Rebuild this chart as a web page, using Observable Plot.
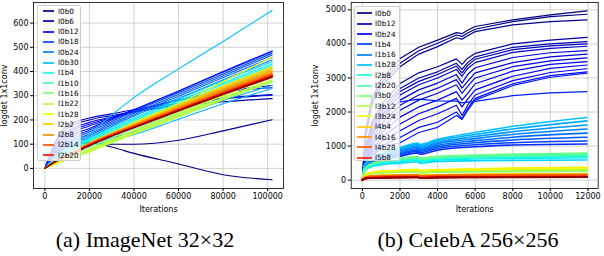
<!DOCTYPE html>
<html><head><meta charset="utf-8">
<script src="https://cdn.jsdelivr.net/npm/d3@7"></script>
<script src="https://cdn.jsdelivr.net/npm/@observablehq/plot@0.6"></script>
<style>
body{margin:0;background:#fff;width:604px;height:256px;position:relative;overflow:hidden;font-family:"DejaVu Sans",sans-serif;}
.panel{position:absolute;top:0;}
.legend{position:absolute;background:rgba(255,255,255,0.8);border:1px solid #cfcfcf;border-radius:2px;box-sizing:border-box;}
.row{display:flex;align-items:center;height:10.3px;font-size:7.3px;color:#000;white-space:nowrap;}
.sw{height:2px;opacity:0.85;flex:none;}
.caption{position:absolute;font-family:"Liberation Serif","Tinos","Nimbus Roman","Times New Roman","DejaVu Serif",serif;font-size:22px;line-height:22px;white-space:nowrap;transform:translateX(-50%);color:#000;}
</style></head><body>
<div id="a" class="panel" style="left:0"></div>
<div id="b" class="panel" style="left:302px"></div>
<div id="legA" class="legend" style="left:37px;top:4.5px;width:44px;height:156px;padding-top:0.4px"></div>
<div id="legB" class="legend" style="left:354px;top:5.5px;width:45.5px;height:155.5px;padding-top:1.8px"></div>
<div class="caption" style="left:145px;top:229px">(a) ImageNet 32×32</div>
<div class="caption" style="left:468px;top:229px">(b) CelebA 256×256</div>
<script>
// ---------- (a) ImageNet 32x32 ----------
const IN_ITER = [0, 5000, 10000, 20000, 30000, 40000, 60000, 80000, 102000];
const IN_X_TICKS = [0, 20000, 40000, 60000, 80000, 100000];
const IN_Y_TICKS = [0, 100, 200, 300, 400, 500, 600];
const IN_LEGEND = ["l0b0","l0b6","l0b12","l0b18","l0b24","l0b30","l1b4","l1b10","l1b16","l1b22","l1b28","l2b2","l2b8","l2b14","l2b20"];
const IN_L0 = [
  ["l0b0",  [0, 60, 95, 108, 88, 62, 18, -26, -47]],
  ["l0b2",  [0, 55, 88, 104, 100, 100, 116, 155, 201]],
  ["l0b4",  [0, 110, 165, 200, 218, 235, 258, 275, 288]],
  ["l0b6",  [0, 115, 175, 208, 225, 242, 268, 290, 305]],
  ["l0b8",  [0, 100, 150, 190, 212, 232, 262, 287, 302]],
  ["l0b10", [0, 95, 145, 182, 210, 238, 282, 318, 342]],
  ["l0b12", [0, 80, 125, 165, 205, 243, 320, 400, 485]],
  ["l0b14", [0, 85, 135, 175, 205, 234, 280, 315, 333]],
  ["l0b16", [0, 70, 115, 158, 200, 240, 318, 397, 482]],
  ["l0b18", [0, 65, 108, 150, 193, 235, 312, 390, 475]],
  ["l0b20", [0, 60, 100, 142, 186, 228, 305, 383, 468]],
  ["l0b22", [0, 55, 95, 135, 180, 222, 298, 375, 458]],
  ["l0b24", [0, 50, 88, 128, 174, 216, 290, 366, 448]],
  ["l0b26", [0, 40, 68, 100, 125, 150, 215, 280, 343]],
  ["l0b28", [0, 35, 60, 92, 115, 140, 203, 267, 330]],
  ["l0b30", [0, 40, 78, 140, 220, 292, 411, 524, 652]]
];
const IN_L1 = [
  ["l1b0",  [0, 45, 78, 125, 168, 208, 285, 362, 440]],
  ["l1b2",  [0, 42, 74, 120, 162, 202, 278, 353, 432]],
  ["l1b4",  [0, 40, 70, 116, 158, 197, 272, 347, 425]],
  ["l1b6",  [0, 38, 66, 112, 153, 192, 266, 340, 418]],
  ["l1b8",  [0, 35, 62, 106, 147, 185, 258, 332, 408]],
  ["l1b10", [0, 33, 58, 100, 140, 178, 250, 323, 398]],
  ["l1b12", [0, 30, 54, 94, 133, 170, 241, 313, 388]],
  ["l1b14", [0, 28, 50, 88, 126, 162, 232, 302, 376]],
  ["l1b16", [0, 25, 45, 80, 118, 154, 224, 293, 366]],
  ["l1b18", [0, 22, 40, 74, 112, 148, 218, 287, 360]],
  ["l1b20", [0, 20, 37, 70, 108, 144, 214, 284, 356]],
  ["l1b22", [0, 19, 36, 68, 106, 142, 212, 283, 357]],
  ["l1b24", [0, 20, 38, 72, 110, 147, 218, 290, 365]],
  ["l1b26", [0, 22, 42, 78, 117, 155, 228, 300, 375]],
  ["l1b28", [0, 18, 40, 98, 145, 190, 268, 358, 460]],
  ["l1b30", [0, 22, 45, 95, 138, 178, 252, 326, 402]]
];
const IN_L2 = [
  ["l2b0",  [0, 28, 52, 102, 146, 186, 262, 340, 420]],
  ["l2b2",  [0, 30, 54, 104, 146, 185, 260, 336, 414]],
  ["l2b4",  [0, 31, 55, 104, 145, 183, 257, 332, 408]],
  ["l2b6",  [0, 32, 56, 104, 144, 181, 254, 328, 403]],
  ["l2b8",  [0, 33, 57, 103, 143, 179, 251, 324, 398]],
  ["l2b10", [0, 33, 57, 102, 141, 177, 248, 320, 394]],
  ["l2b12", [0, 33, 56, 101, 140, 175, 246, 317, 391]],
  ["l2b14", [0, 32, 55, 100, 139, 174, 244, 314, 388]],
  ["l2b16", [0, 32, 54, 99, 138, 173, 243, 312, 386]],
  ["l2b18", [0, 31, 53, 98, 137, 172, 242, 311, 384]],
  ["l2b20", [0, 31, 52, 97, 136, 171, 241, 310, 383]],
  ["l2b22", [0, 30, 51, 96, 135, 170, 240, 309, 381]],
  ["l2b24", [0, 30, 51, 96, 135, 170, 240, 308, 380]],
  ["l2b26", [0, 29, 50, 95, 134, 169, 239, 307, 379]],
  ["l2b28", [0, 29, 50, 95, 134, 169, 238, 306, 378]],
  ["l2b30", [0, 28, 49, 94, 133, 168, 237, 305, 376]]
];

// ---------- (b) CelebA 256x256 ----------
const CA_ITER_L0 = [0, 150, 500, 1000, 2000, 3000, 4000, 5000, 5300, 5600, 6000, 8000, 10000, 11950];
const CA_ITER_BANDS = [0, 100, 400, 1000, 2000, 2950, 3050, 4000, 6000, 8000, 11950];
const CA_X_TICKS = [0, 2000, 4000, 6000, 8000, 10000, 12000];
const CA_Y_TICKS = [0, 1000, 2000, 3000, 4000, 5000];
const CA_LEGEND = ["l0b0","l0b12","l0b24","l1b4","l1b16","l1b28","l2b8","l2b20","l3b0","l3b12","l3b24","l4b4","l4b16","l4b28","l5b8"];
const CA_L0 = [
  ["l0b0",  [0, 1400, 2400, 2950, 3570, 3900, 4110, 4330, 4300, 4400, 4510, 4705, 4850, 4970]],
  ["l0b2",  [0, 1300, 2300, 2850, 3430, 3800, 4020, 4260, 4220, 4320, 4430, 4655, 4800, 4870]],
  ["l0b4",  [0, 1200, 2200, 2750, 3330, 3700, 3920, 4180, 4140, 4240, 4360, 4560, 4655, 4705]],
  ["l0b6",  [0, 900, 1700, 2200, 2840, 3150, 3330, 3560, 3400, 3580, 3720, 4000, 4110, 4190]],
  ["l0b8",  [0, 850, 1600, 2100, 2690, 3000, 3180, 3430, 3250, 3450, 3620, 3900, 4000, 4065]],
  ["l0b10", [0, 800, 1500, 2000, 2600, 2900, 3100, 3350, 3150, 3370, 3550, 3830, 3940, 4000]],
  ["l0b12", [0, 750, 1400, 1900, 2500, 2800, 3000, 3250, 3050, 3280, 3450, 3750, 3870, 3930]],
  ["l0b14", [0, 700, 1300, 1800, 2350, 2650, 2850, 3100, 2850, 3100, 3300, 3600, 3740, 3800]],
  ["l0b16", [0, 650, 1200, 1650, 2200, 2500, 2700, 2950, 2700, 2900, 3150, 3450, 3620, 3700]],
  ["l0b18", [0, 600, 1100, 1500, 2050, 2350, 2550, 2800, 2550, 2750, 3000, 3330, 3500, 3590]],
  ["l0b20", [0, 550, 1000, 1380, 1850, 2150, 2350, 2600, 2350, 2550, 2830, 3200, 3400, 3480]],
  ["l0b22", [0, 500, 900, 1250, 1650, 1950, 2150, 2400, 2150, 2380, 2650, 3050, 3280, 3380]],
  ["l0b24", [0, 450, 820, 1120, 1450, 1750, 1950, 2200, 1900, 2200, 2500, 2920, 3160, 3270]],
  ["l0b26", [0, 400, 740, 1000, 1250, 1550, 1700, 2000, 1800, 2100, 2400, 2830, 3070, 3180]],
  ["l0b28", [0, 380, 700, 950, 1100, 1400, 1550, 1900, 1780, 2050, 2350, 2780, 3020, 3140]],
  ["l0b30", [0, 700, 1400, 1900, 2300, 2380, 2330, 2320, 2270, 2290, 2310, 2480, 2560, 2600]]
];
const CA_L1 = [
  ["l1b0",  [0, 300, 450, 560, 700, 800, 760, 880, 980, 1030, 1060]],
  ["l1b4",  [0, 320, 480, 600, 740, 850, 810, 930, 1040, 1100, 1150]],
  ["l1b8",  [0, 340, 500, 630, 780, 890, 850, 980, 1100, 1180, 1260]],
  ["l1b12", [0, 360, 520, 660, 820, 930, 890, 1020, 1160, 1260, 1380]],
  ["l1b16", [0, 380, 540, 690, 860, 970, 930, 1070, 1220, 1340, 1500]],
  ["l1b20", [0, 400, 560, 720, 890, 1010, 970, 1110, 1280, 1420, 1620]],
  ["l1b24", [0, 420, 590, 750, 930, 1050, 1010, 1160, 1340, 1500, 1740]],
  ["l1b28", [0, 440, 610, 780, 960, 1090, 1050, 1200, 1400, 1580, 1840]]
];
const CA_L2 = [
  ["l2b0",  [0, 250, 380, 450, 500, 540, 500, 550, 570, 580, 590]],
  ["l2b4",  [0, 260, 400, 480, 540, 580, 540, 590, 620, 640, 660]],
  ["l2b8",  [0, 270, 420, 500, 570, 610, 570, 620, 650, 670, 690]],
  ["l2b12", [0, 280, 430, 520, 590, 630, 590, 640, 670, 690, 710]],
  ["l2b16", [0, 290, 440, 530, 600, 645, 605, 655, 690, 710, 730]],
  ["l2b20", [0, 300, 450, 545, 615, 660, 620, 670, 705, 725, 750]],
  ["l2b24", [0, 310, 460, 555, 630, 675, 635, 685, 720, 745, 770]],
  ["l2b28", [0, 320, 470, 565, 645, 690, 650, 700, 740, 765, 795]]
];
const CA_L3 = [
  ["l3b0",  [0, 120, 180, 210, 230, 245, 215, 235, 245, 250, 255]],
  ["l3b4",  [0, 125, 185, 220, 240, 255, 225, 248, 260, 268, 275]],
  ["l3b8",  [0, 130, 190, 228, 250, 265, 235, 258, 272, 282, 292]],
  ["l3b12", [0, 135, 195, 235, 258, 275, 245, 268, 285, 296, 308]],
  ["l3b16", [0, 140, 200, 242, 266, 285, 255, 280, 298, 312, 326]],
  ["l3b20", [0, 145, 205, 250, 275, 295, 265, 290, 310, 326, 342]],
  ["l3b24", [0, 150, 212, 258, 284, 305, 275, 300, 322, 340, 358]],
  ["l3b28", [0, 155, 218, 265, 292, 315, 285, 312, 335, 355, 375]]
];
const CA_L4 = [
  ["l4b0",  [0, 80, 120, 140, 155, 165, 140, 160, 170, 178, 190]],
  ["l4b4",  [0, 78, 118, 138, 152, 162, 137, 156, 166, 174, 185]],
  ["l4b8",  [0, 76, 115, 135, 148, 158, 133, 152, 162, 170, 180]],
  ["l4b12", [0, 74, 112, 132, 145, 154, 130, 148, 158, 165, 174]],
  ["l4b16", [0, 72, 110, 128, 141, 150, 126, 144, 153, 160, 168]],
  ["l4b20", [0, 70, 107, 125, 137, 146, 122, 140, 148, 155, 162]],
  ["l4b24", [0, 68, 104, 122, 133, 142, 118, 135, 143, 150, 156]],
  ["l4b28", [0, 66, 101, 118, 129, 138, 114, 130, 138, 144, 150]]
];
const CA_L5 = [
  ["l5b0",  [0, 50, 75, 85, 95, 100, 80, 95, 100, 105, 110]],
  ["l5b4",  [0, 48, 72, 82, 92, 97, 77, 92, 97, 101, 106]],
  ["l5b8",  [0, 46, 70, 80, 89, 94, 74, 89, 94, 98, 102]],
  ["l5b12", [0, 44, 67, 77, 86, 91, 71, 86, 91, 95, 98]],
  ["l5b16", [0, 42, 65, 74, 83, 88, 68, 83, 88, 92, 95]],
  ["l5b20", [0, 40, 62, 71, 80, 85, 65, 80, 85, 89, 92]],
  ["l5b24", [0, 38, 60, 68, 77, 82, 62, 77, 82, 86, 88]],
  ["l5b28", [0, 36, 57, 65, 74, 79, 59, 74, 79, 83, 85]]
];

// ---------- jet colormap ----------
function jet(t) {
  const seg = pts => {
    for (let i = 1; i < pts.length; i++) {
      if (t <= pts[i][0]) {
        const [x0, y0] = pts[i - 1], [x1, y1] = pts[i];
        return y0 + (y1 - y0) * (t - x0) / (x1 - x0);
      }
    }
    return pts[pts.length - 1][1];
  };
  const r = seg([[0,0],[0.35,0],[0.66,1],[0.89,1],[1,0.5]]);
  const g = seg([[0,0],[0.125,0],[0.375,1],[0.64,1],[0.91,0],[1,0]]);
  const b = seg([[0,0.5],[0.11,1],[0.34,1],[0.65,0],[1,0]]);
  return d3.rgb(r * 255, g * 255, b * 255).formatHex();
}
function colorOf(name, n) {
  const m = /^l(\d+)b(\d+)$/.exec(name);
  return jet((+m[1] * 32 + +m[2]) / (n - 1));
}
function rows(groups, iters, n) {
  const out = [];
  for (const g of groups) for (const [name, vals] of g) {
    const c = colorOf(name, n);
    vals.forEach((v, i) => out.push({series: name, x: iters[i], y: v, c}));
  }
  return out;
}

const fmt = d => String(d);
const baseStyle = {fontFamily: "DejaVu Sans", fontSize: "8px", color: "#000", background: "transparent", overflow: "visible"};
const gridStyle = {stroke: "#b8b8b8", strokeOpacity: 0.8, strokeWidth: 0.8};

const chartA = Plot.plot({
  width: 302, height: 214,
  marginLeft: 33, marginRight: 19, marginTop: 2, marginBottom: 26,
  style: baseStyle,
  x: {domain: [-5100, 107100]},
  y: {domain: [-83, 685]},
  color: {type: "identity"},
  marks: [
    Plot.gridX(IN_X_TICKS, gridStyle),
    Plot.gridY(IN_Y_TICKS, gridStyle),
    Plot.line(rows([IN_L0, IN_L1, IN_L2], IN_ITER, 96), {x: "x", y: "y", z: "series", stroke: "c", strokeWidth: 1.1, curve: "monotone-x"}),
    Plot.frame({stroke: "#000", strokeWidth: 0.8}),
    Plot.axisX(IN_X_TICKS, {tickSize: 3, tickPadding: 2, tickFormat: fmt, label: "Iterations", labelAnchor: "center", labelArrow: "none"}),
    Plot.axisY(IN_Y_TICKS, {tickSize: 3, tickPadding: 2, tickFormat: fmt, label: "logdet 1x1conv", labelAnchor: "center", labelArrow: "none", labelOffset: 32.5})
  ]
});
document.getElementById("a").appendChild(chartA);

const chartB = Plot.plot({
  width: 302, height: 214,
  marginLeft: 48.7, marginRight: 6.3, marginTop: 2, marginBottom: 26,
  style: baseStyle,
  x: {domain: [-597, 12547]},
  y: {domain: [-245, 5215]},
  color: {type: "identity"},
  marks: [
    Plot.gridX(CA_X_TICKS, gridStyle),
    Plot.gridY(CA_Y_TICKS, gridStyle),
    Plot.line(rows([CA_L0], CA_ITER_L0, 192), {x: "x", y: "y", z: "series", stroke: "c", strokeWidth: 1.2, curve: "linear"}),
    Plot.line(rows([CA_L1, CA_L2, CA_L3, CA_L4, CA_L5], CA_ITER_BANDS, 192), {x: "x", y: "y", z: "series", stroke: "c", strokeWidth: 1.6, curve: "monotone-x"}),
    Plot.frame({stroke: "#000", strokeWidth: 0.8}),
    Plot.axisX(CA_X_TICKS, {tickSize: 3, tickPadding: 2, tickFormat: fmt, label: "Iterations", labelAnchor: "center", labelArrow: "none"}),
    Plot.axisY(CA_Y_TICKS, {tickSize: 3, tickPadding: 2, tickFormat: fmt, label: "logdet 1x1conv", labelAnchor: "center", labelArrow: "none", labelOffset: 39})
  ]
});
document.getElementById("b").appendChild(chartB);

// ---------- legends ----------
function buildLegend(el, names, n, swLeft, swLen, gap) {
  for (const name of names) {
    const row = document.createElement("div");
    row.className = "row";
    const sw = document.createElement("div");
    sw.className = "sw";
    sw.style.width = swLen + "px";
    sw.style.marginLeft = swLeft + "px";
    sw.style.marginRight = gap + "px";
    sw.style.background = colorOf(name, n);
    const tx = document.createElement("span");
    tx.textContent = name;
    row.appendChild(sw); row.appendChild(tx);
    el.appendChild(row);
  }
}
buildLegend(document.getElementById("legA"), IN_LEGEND, 96, 5.3, 10.7, 4);
buildLegend(document.getElementById("legB"), CA_LEGEND, 192, 2, 15, 3);
</script>
</body></html>
